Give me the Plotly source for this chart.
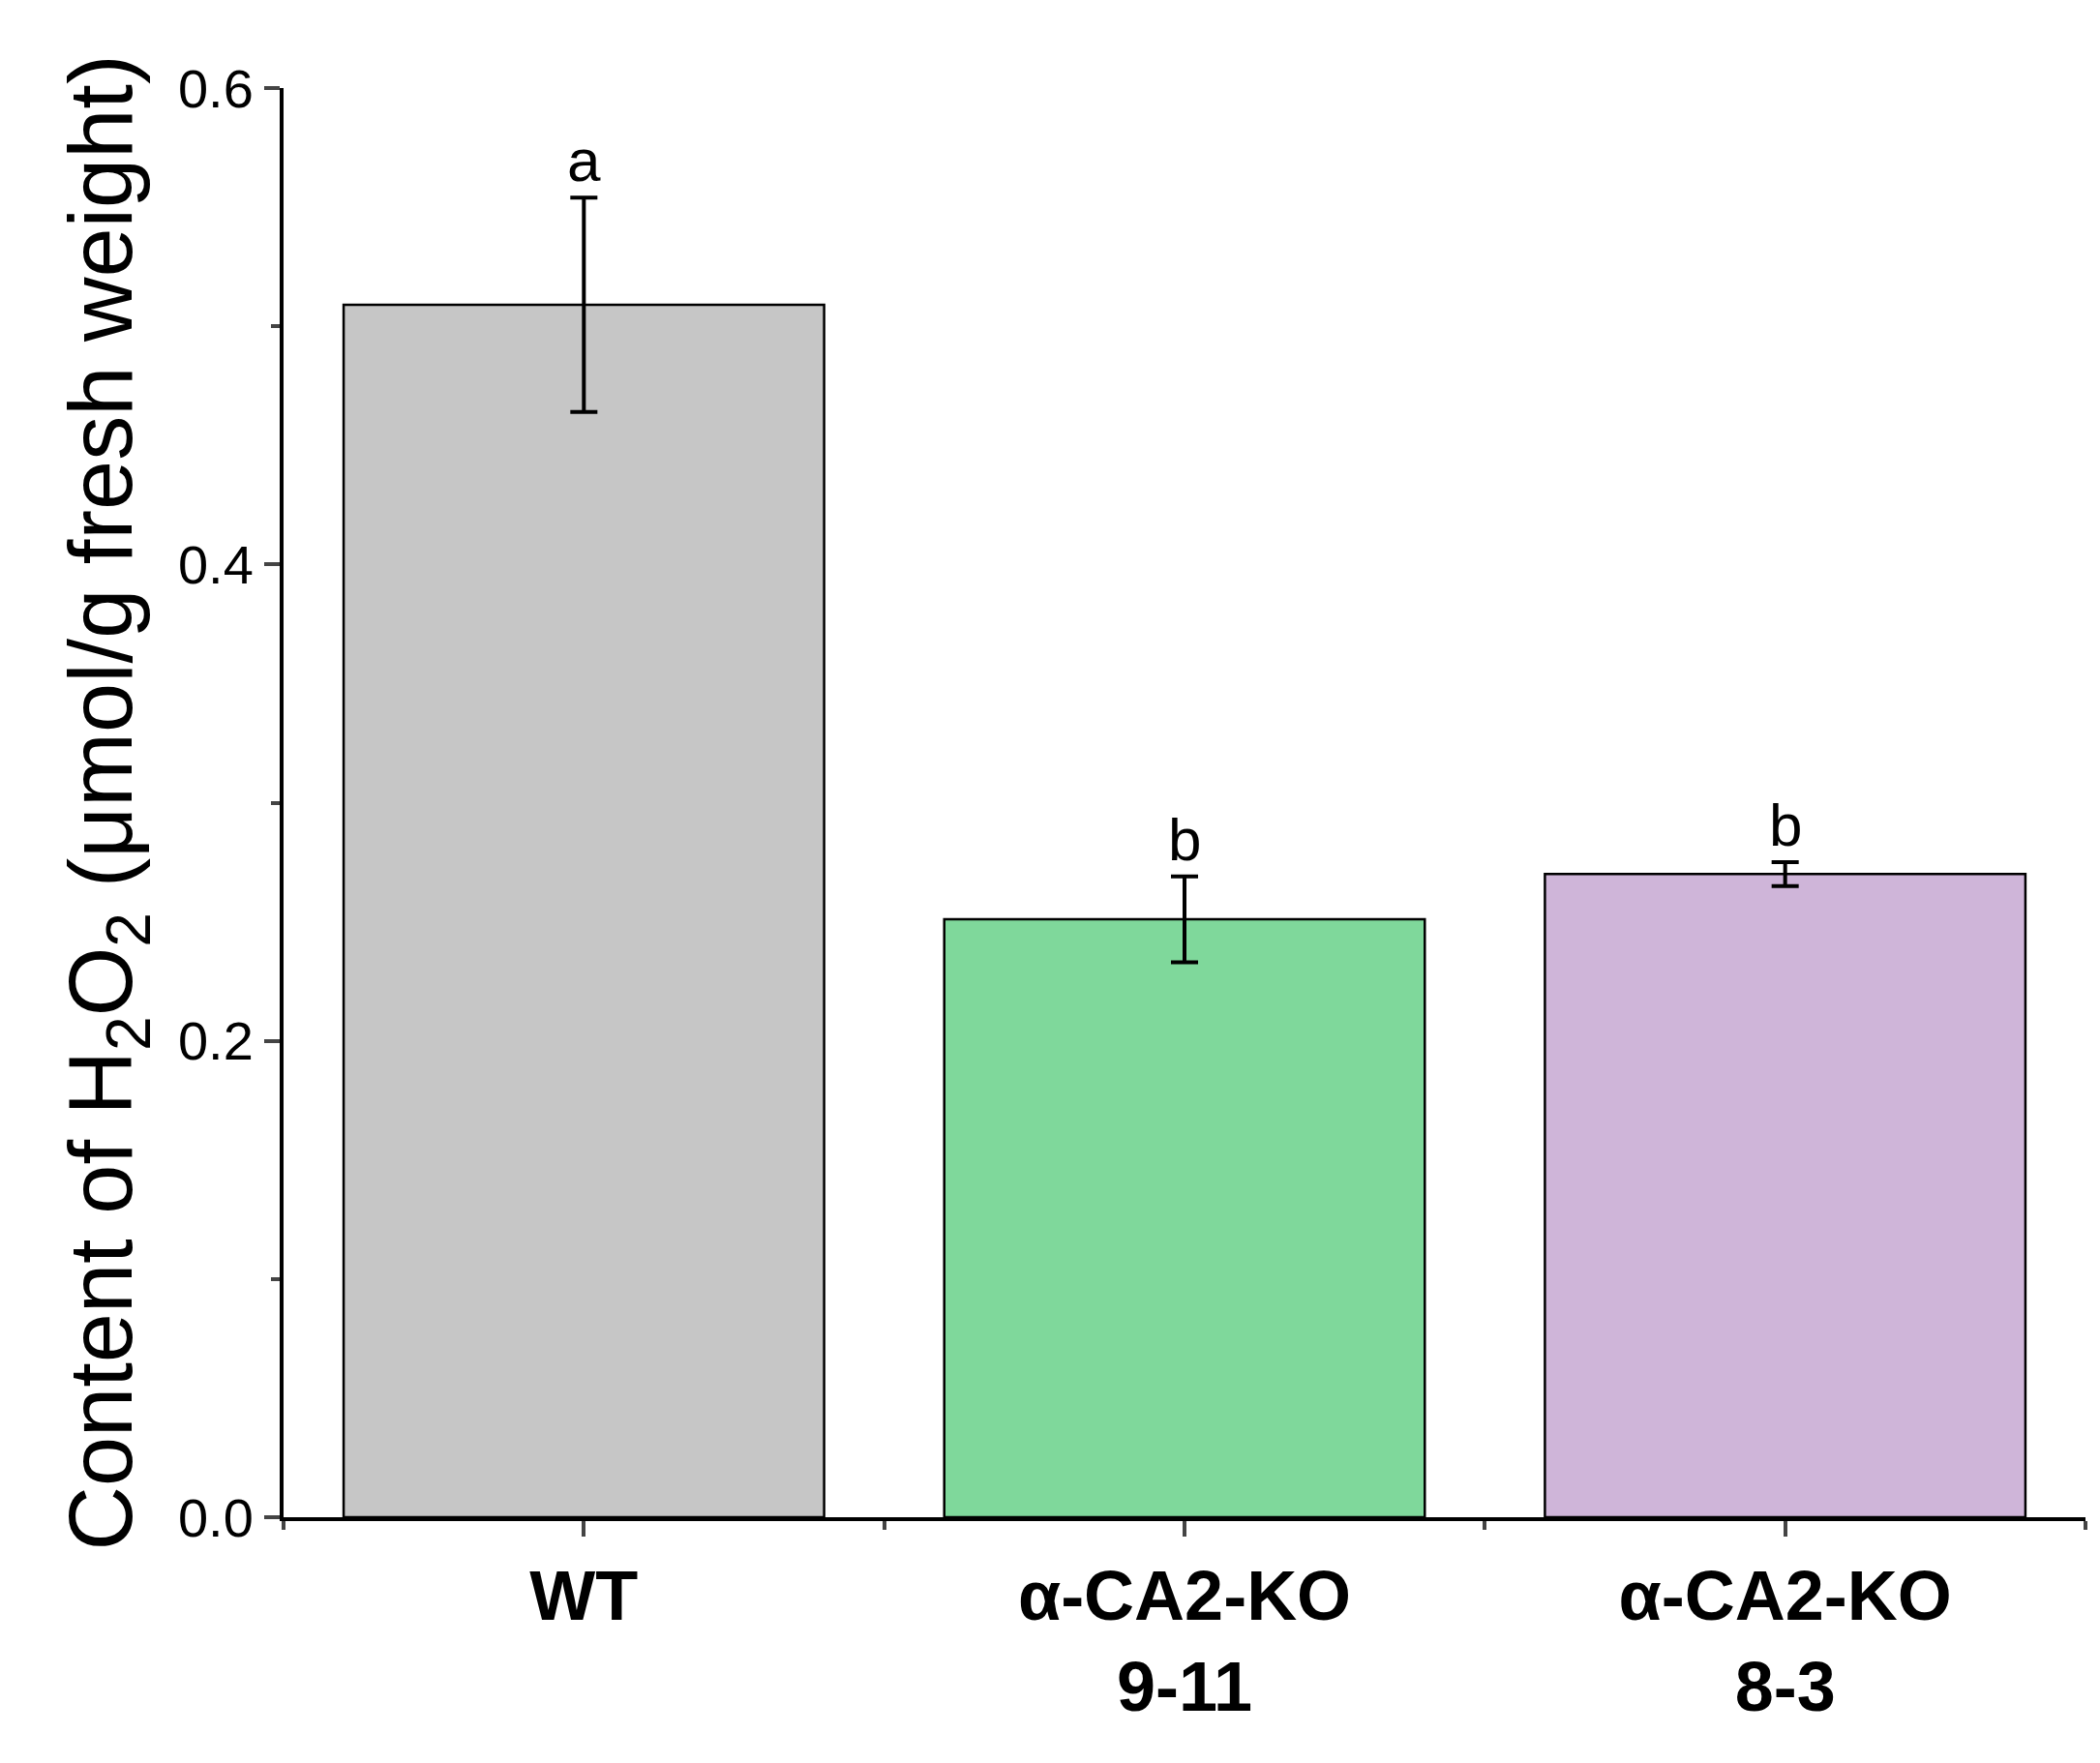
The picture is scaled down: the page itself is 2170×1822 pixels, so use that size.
import plotly.graph_objects as go

# data
groups = ["WT", "α-CA2-KO<br>9-11", "α-CA2-KO<br>8-3"]
h2o2 = [0.509, 0.251, 0.270]
err = [0.045, 0.018, 0.005]
letters = ["a", "b", "b"]
colors = ["#c6c6c6", "#7fd89b", "#cfb5d9"]

xpos = list(range(len(groups)))

fig = go.Figure()
fig.add_trace(go.Bar(
    x=xpos, y=h2o2, width=0.8,
    marker=dict(color=colors, line=dict(color="black", width=2.5)),
    error_y=dict(type="data", array=err, color="black", thickness=4, width=14),
    showlegend=False,
))

for x, y, e, t in zip(xpos, h2o2, err, letters):
    fig.add_annotation(x=x, y=y + e, text=t, showarrow=False, yanchor="bottom",
                       yshift=2, font=dict(size=62, color="black"))

fig.update_layout(
    width=2170, height=1822,
    margin=dict(l=285, r=23, t=83, b=262),
    plot_bgcolor="white", paper_bgcolor="white",
    font=dict(family="Liberation Sans, Arial", color="black"),
)
fig.update_xaxes(
    range=[-0.5, 2.5], tickvals=xpos,
    ticktext=[f"<b>{g}</b>" for g in groups],
    tickfont=dict(size=72),
    showline=True, linecolor="black", linewidth=4,
    ticks="outside", ticklen=16, tickwidth=4,
    minor=dict(tick0=0.5, dtick=1, ticks="outside", ticklen=9, tickwidth=4),
    showgrid=False, zeroline=False,
)
fig.update_yaxes(
    range=[0, 0.6], tickvals=[0, 0.2, 0.4, 0.6],
    ticktext=["0.0", "0.2", "0.4", "0.6"],
    tickfont=dict(size=56),
    showline=True, linecolor="black", linewidth=4,
    ticks="outside", ticklen=16, tickwidth=4,
    minor=dict(tick0=0, dtick=0.1, ticks="outside", ticklen=9, tickwidth=4),
    showgrid=False, zeroline=False,
    title=dict(text="Content of H<sub>2</sub>O<sub>2</sub> (μmol/g fresh weight)",
               font=dict(size=92), standoff=18),
)

fig.write_html("out.html")
